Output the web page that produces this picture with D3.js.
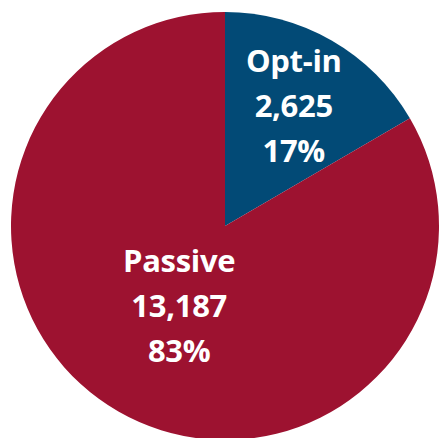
<!DOCTYPE html>
<html>
<head>
<meta charset="utf-8">
<script src="https://cdn.jsdelivr.net/npm/d3@7"></script>
<style>
  body { margin: 0; background: #fff; }
  svg { display: block; }
  .lbl { font-family: "Open Sans", sans-serif; font-weight: 700; fill: #fff; font-size: 31px; letter-spacing: -0.3px; }
</style>
</head>
<body>
<svg width="441" height="438"></svg>
<script>
// slice data
var categories = ["Opt-in", "Passive"];
var counts = [2625, 13187];
var percents = ["17%", "83%"];
var colours = ["#024a76", "#9d1230"];

var width = 441, height = 438;
var cx = 225, cy = 226, radius = 214;

var data = categories.map(function(c, i) {
    return { name: c, value: counts[i], pct: percents[i], colour: colours[i] };
});

var pie = d3.pie().sort(null).value(d => d.value);
var arc = d3.arc().innerRadius(0).outerRadius(radius);

var svg = d3.select("svg");
var g = svg.append("g").attr("transform", "translate(" + cx + "," + cy + ")");

var arcs = pie(data);

g.selectAll("path")
    .data(arcs)
    .enter()
    .append("path")
    .attr("d", arc)
    .attr("fill", d => d.data.colour);

// label radius differs a bit for the small and the big slice
var labelR = [138, 92];
var lineH = 45;

var labels = g.selectAll("text")
    .data(arcs)
    .enter()
    .append("text")
    .attr("class", "lbl")
    .attr("text-anchor", "middle")
    .attr("transform", function(d, i) {
        var a = (d.startAngle + d.endAngle) / 2;
        var x = Math.sin(a) * labelR[i];
        var y = -Math.cos(a) * labelR[i];
        return "translate(" + x + "," + y + ")";
    });

labels.each(function(d) {
    var t = d3.select(this);
    var lines = [d.data.name, d3.format(",")(d.data.value), d.data.pct];
    lines.forEach(function(s, j) {
        t.append("tspan")
            .attr("x", 0)
            .attr("y", (j - 1) * lineH + 11)
            .text(s);
    });
});
</script>
</body>
</html>
